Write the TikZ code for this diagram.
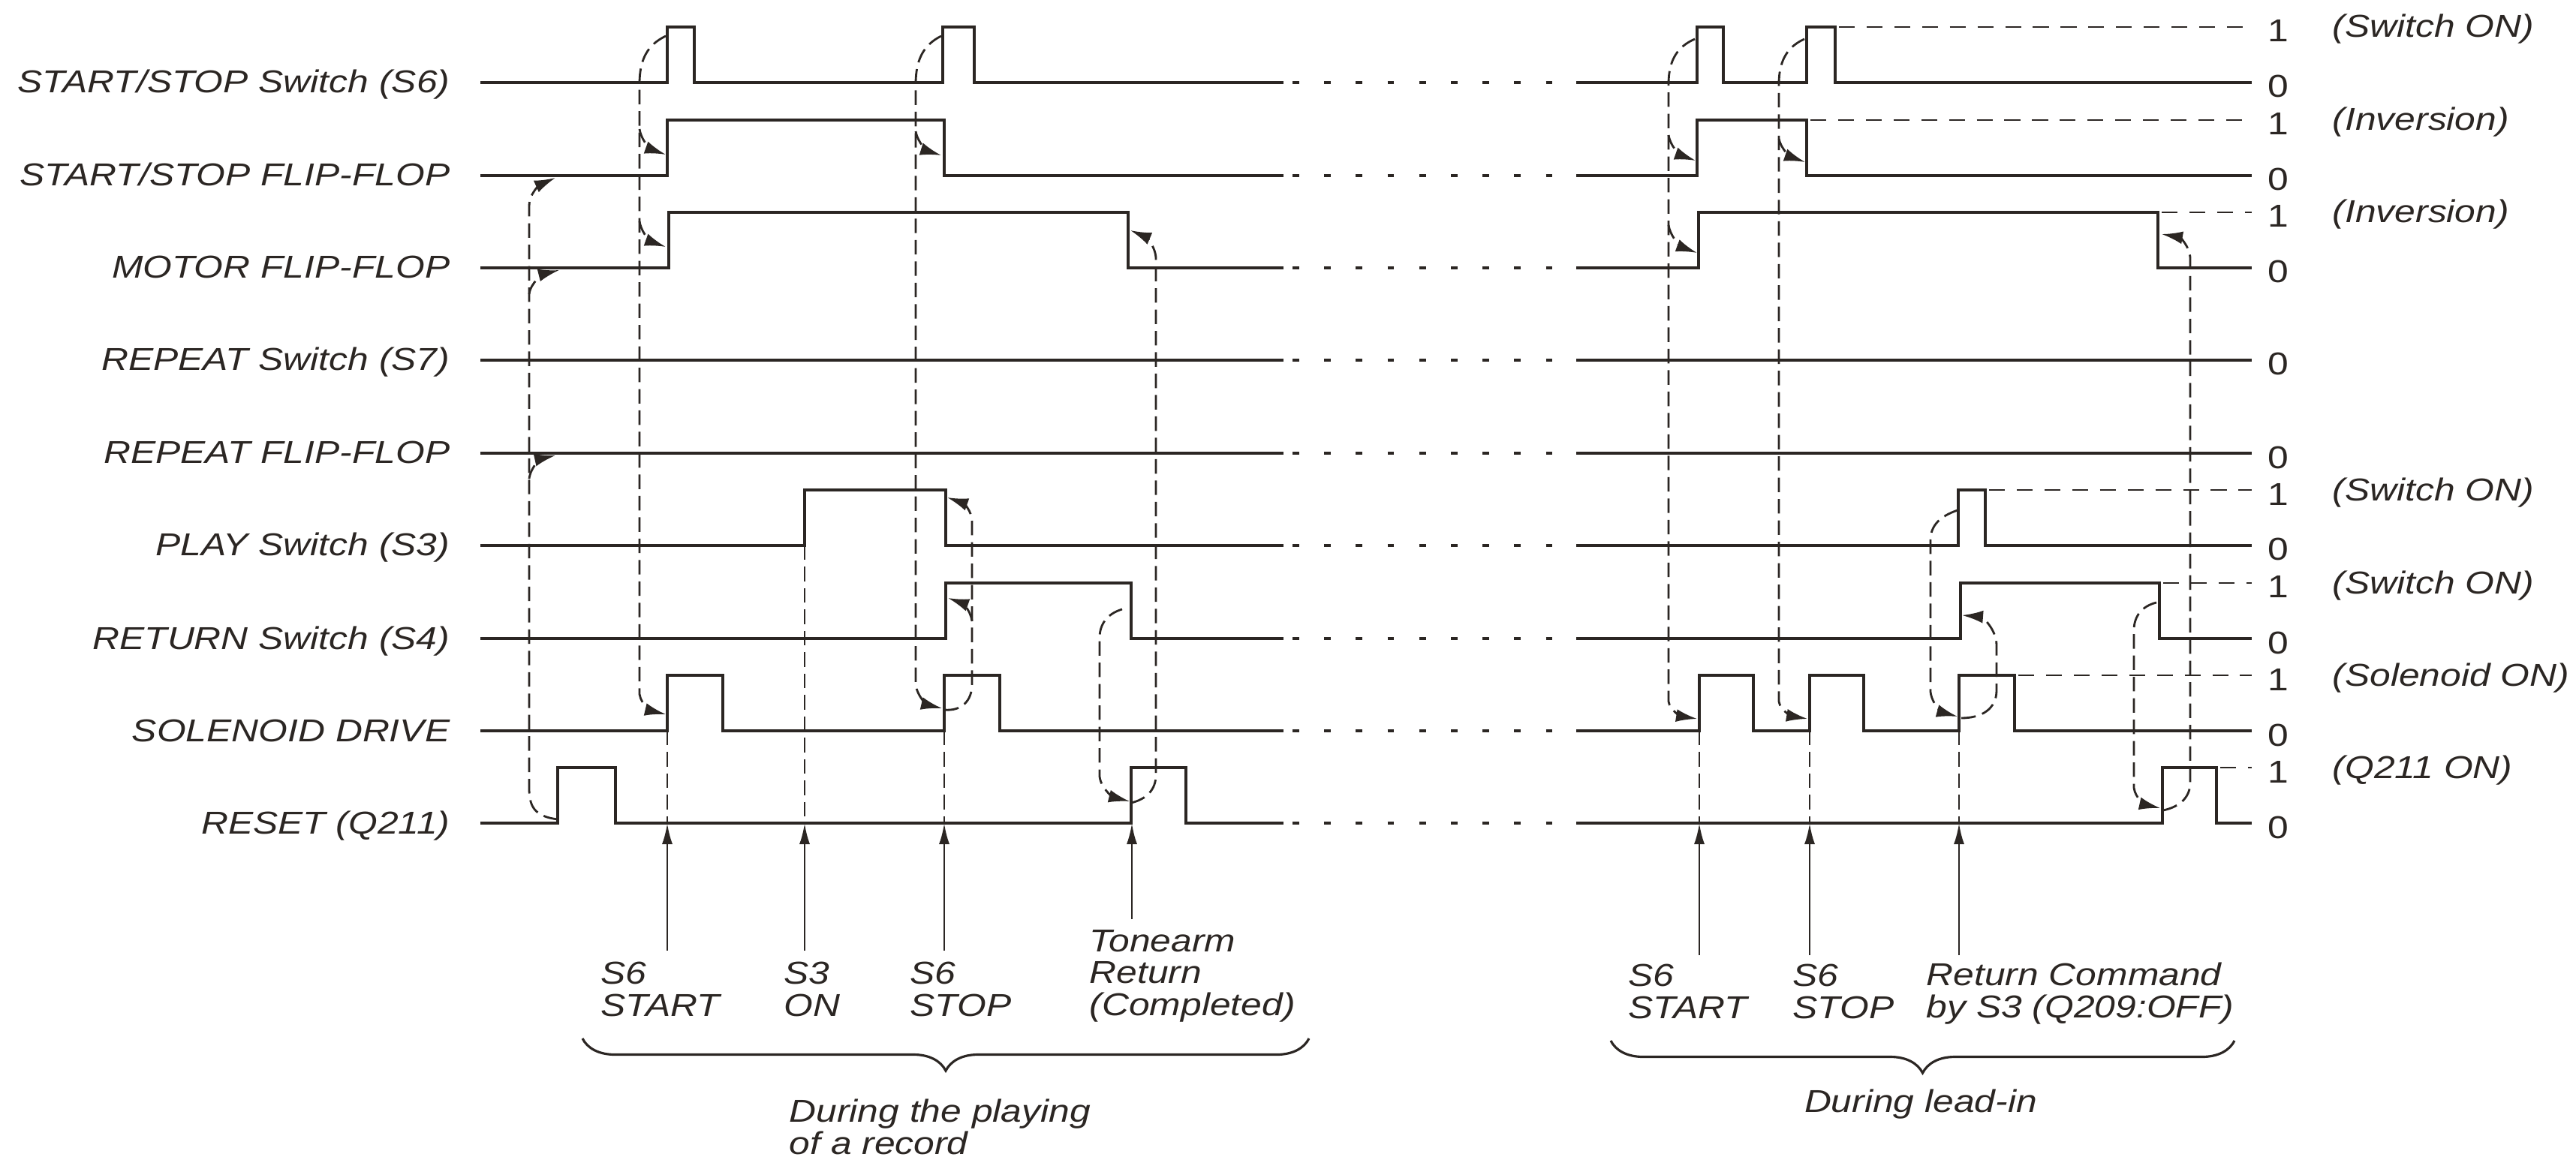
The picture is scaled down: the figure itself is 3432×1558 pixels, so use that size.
\documentclass[tikz,border=0pt]{standalone}
\usepackage{fontspec}
\setmainfont{Liberation Sans}[FakeStretch=1.18]
\usetikzlibrary{arrows.meta, decorations.pathreplacing}
\definecolor{ink}{HTML}{2B2623}

\begin{document}
\begin{tikzpicture}[
  x=0.01cm, y=-0.01cm,
  every node/.style={inner sep=0pt, text=ink, font=\fontsize{12}{12}\selectfont\itshape},
  wave/.style={line width=1.3pt, ink},
  gap/.style={line width=1.2pt, ink, dash pattern=on 2.5pt off 9.5pt},
  hi/.style={line width=0.8pt, ink, dash pattern=on 6pt off 4.5pt},
  dline/.style={line width=0.8pt, ink, dash pattern=on 5.5pt off 2.6pt},
  link/.style={dline, -{Latex[length=2.8mm, width=1.7mm]}},
  evt/.style={line width=0.8pt, ink, -{Latex[length=2.8mm, width=1.4mm]}},
  lvl/.style={anchor=base, font=\fontsize{12}{12}\selectfont\upshape},
  brc/.style={line width=0.9pt, ink, decorate, decoration={brace, mirror, amplitude=0.43cm}}
]
\useasboundingbox (0,0) rectangle (3432,1558);

% signal names
\foreach \y/\nm/\txt in {110/lsw/{START/STOP Switch (S6)}, 234/lssf/{START/STOP FLIP-FLOP},
    357/lmot/{MOTOR FLIP-FLOP}, 480/lrsw/{REPEAT Switch (S7)}, 604/lrff/{REPEAT FLIP-FLOP},
    727/lplay/{PLAY Switch (S3)}, 851/lret/{RETURN Switch (S4)}, 974/lsol/{SOLENOID DRIVE},
    1097/lrst/{RESET (Q211)}}
  \node[anchor=base east] (\nm) at (600,\y+14) {\txt};

% levels and notes on the right
\foreach \y in {110,234,357,480,604,727,851,974,1097}
  \node[lvl] (z\y) at (3035,\y+20) {0};
\foreach \y/\txt in {36/{(Switch ON)}, 160/{(Inversion)}, 283/{(Inversion)}, 653/{(Switch ON)},
    777/{(Switch ON)}, 900/{(Solenoid ON)}, 1023/{(Q211 ON)}} {
  \node[lvl] (o\y) at (3035,\y+20) {1};
  \node[anchor=base west] (r\y) at (3107,\y+14) {\txt};
}

% waveforms: playing of a record
\draw[wave] (640,110) -- (889,110) -- (889,36) -- (925,36) -- (925,110) -- (1256,110) -- (1256,36) -- (1298,36) -- (1298,110) -- (1710,110);
\draw[wave] (640,234) -- (889,234) -- (889,160) -- (1258,160) -- (1258,234) -- (1710,234);
\draw[wave] (640,357) -- (891,357) -- (891,283) -- (1503,283) -- (1503,357) -- (1710,357);
\draw[wave] (640,480) -- (1710,480);
\draw[wave] (640,604) -- (1710,604);
\draw[wave] (640,727) -- (1072,727) -- (1072,653) -- (1260,653) -- (1260,727) -- (1710,727);
\draw[wave] (640,851) -- (1260,851) -- (1260,777) -- (1507,777) -- (1507,851) -- (1710,851);
\draw[wave] (640,974) -- (889,974) -- (889,900) -- (963,900) -- (963,974) -- (1258,974) -- (1258,900) -- (1332,900) -- (1332,974) -- (1710,974);
\draw[wave] (640,1097) -- (743,1097) -- (743,1023) -- (820,1023) -- (820,1097) -- (1507,1097) -- (1507,1023) -- (1580,1023) -- (1580,1097) -- (1710,1097);

% dotted gap
\foreach \y in {110,234,357,480,604,727,851,974,1097}
  \draw[gap] (1722,\y) -- (2095,\y);

% waveforms: lead-in
\draw[wave] (2100,110) -- (2261,110) -- (2261,36) -- (2296,36) -- (2296,110) -- (2407,110) -- (2407,36) -- (2445,36) -- (2445,110) -- (3000,110);
\draw[wave] (2100,234) -- (2261,234) -- (2261,160) -- (2407,160) -- (2407,234) -- (3000,234);
\draw[wave] (2100,357) -- (2263,357) -- (2263,283) -- (2875,283) -- (2875,357) -- (3000,357);
\draw[wave] (2100,480) -- (3000,480);
\draw[wave] (2100,604) -- (3000,604);
\draw[wave] (2100,727) -- (2609,727) -- (2609,653) -- (2645,653) -- (2645,727) -- (3000,727);
\draw[wave] (2100,851) -- (2612,851) -- (2612,777) -- (2877,777) -- (2877,851) -- (3000,851);
\draw[wave] (2100,974) -- (2264,974) -- (2264,900) -- (2336,900) -- (2336,974) -- (2411,974) -- (2411,900) -- (2483,900) -- (2483,974) -- (2610,974) -- (2610,900) -- (2684,900) -- (2684,974) -- (3000,974);
\draw[wave] (2100,1097) -- (2881,1097) -- (2881,1023) -- (2953,1023) -- (2953,1097) -- (3000,1097);

% high levels carried to the "1" marks
\draw[hi] (2450,36) -- (3000,36);
\draw[hi] (2412,160) -- (3000,160);
\draw[hi] (2880,283) -- (3000,283);
\draw[hi] (2650,653) -- (3000,653);
\draw[hi] (2882,777) -- (3000,777);
\draw[hi] (2689,900) -- (3000,900);
\draw[hi] (2958,1023) -- (3000,1023);

% cause and effect, playing of a record
\draw[link] (743,1092) .. controls (712,1088) and (705,1075) .. (705,1050) -- (705,275) .. controls (705,256) and (722,245) .. (740,237);
\draw[link] (705,392) .. controls (707,376) and (725,365) .. (745,360);
\draw[link] (705,638) .. controls (707,622) and (722,611) .. (740,607);
\draw[link] (887,48) .. controls (862,60) and (852,80) .. (852,112) -- (852,925) .. controls (854,940) and (870,948) .. (887,952);
\draw[link] (852,172) .. controls (855,190) and (870,200) .. (887,206);
\draw[link] (852,295) .. controls (855,313) and (870,323) .. (887,329);
\draw[link] (1254,48) .. controls (1230,60) and (1220,80) .. (1220,112) -- (1220,912) .. controls (1222,930) and (1238,940) .. (1255,944);
\draw[link] (1220,175) .. controls (1223,192) and (1238,202) .. (1254,207);
\draw[link] (1258,946) .. controls (1280,948) and (1295,935) .. (1295,912) -- (1295,695) .. controls (1295,680) and (1282,670) .. (1262,663);
\draw[link] (1295,828) .. controls (1293,812) and (1280,803) .. (1263,797);
\draw[link] (1495,812) .. controls (1475,818) and (1465,832) .. (1465,850) -- (1465,1035) .. controls (1467,1052) and (1485,1063) .. (1505,1068);
\draw[link] (1507,1070) .. controls (1528,1065) and (1540,1052) .. (1540,1033) -- (1540,345) .. controls (1540,328) and (1525,315) .. (1506,307);
\draw[dline] (889,974) -- (889,1097);
\draw[dline] (1072,727) -- (1072,1097);
\draw[dline] (1258,974) -- (1258,1097);

% cause and effect, lead-in
\draw[link] (2258,52) .. controls (2235,62) and (2223,80) .. (2223,112) -- (2223,935) .. controls (2225,948) and (2242,955) .. (2261,958);
\draw[link] (2223,180) .. controls (2226,198) and (2242,208) .. (2259,214);
\draw[link] (2223,300) .. controls (2226,318) and (2242,330) .. (2261,337);
\draw[link] (2404,52) .. controls (2382,62) and (2370,80) .. (2370,112) -- (2370,935) .. controls (2372,948) and (2390,955) .. (2408,958);
\draw[link] (2370,185) .. controls (2373,200) and (2388,210) .. (2405,216);
\draw[link] (2608,680) .. controls (2585,688) and (2572,700) .. (2572,720) -- (2572,922) .. controls (2574,940) and (2590,950) .. (2608,955);
\draw[link] (2613,957) .. controls (2640,957) and (2660,945) .. (2660,920) -- (2660,860) .. controls (2660,838) and (2640,822) .. (2614,820);
\draw[link] (2873,803) .. controls (2853,808) and (2843,822) .. (2843,840) -- (2843,1050) .. controls (2845,1065) and (2860,1073) .. (2878,1077);
\draw[link] (2882,1080) .. controls (2905,1075) and (2918,1062) .. (2918,1043) -- (2918,345) .. controls (2918,328) and (2903,316) .. (2880,312);
\draw[dline] (2264,974) -- (2264,1097);
\draw[dline] (2411,974) -- (2411,1097);
\draw[dline] (2610,974) -- (2610,1097);

% events (anchored on the last line)
\node[anchor=base west, align=left] (sstart) at (800,1354) {S6\\START};
\node[anchor=base west, align=left] (son) at (1044,1354) {S3\\ON};
\node[anchor=base west, align=left] (sstop) at (1212,1354) {S6\\STOP};
\node[anchor=base west, align=left] (tret) at (1451,1353) {Tonearm\\Return\\(Completed)};
\node[anchor=base west, align=left] (rstart) at (2169,1357) {S6\\START};
\node[anchor=base west, align=left] (rstop) at (2388,1357) {S6\\STOP};
\node[anchor=base west, align=left] (rcmd) at (2566,1356) {Return Command\\by S3 (Q209:OFF)};
\foreach \x/\y in {889/1267, 1072/1267, 1258/1267, 1508/1225, 2264/1273, 2411/1273, 2610/1273} {
  \coordinate (e\x) at (\x,\y);
  \coordinate (t\x) at (\x,1097);
  \draw[evt] (e\x) -- (t\x);
}

% phases
\draw[brc] (776,1384) -- (1744,1384);
\draw[brc] (2146,1387) -- (2977,1387);
\node[anchor=base west, align=left] (dplay) at (1051,1538) {During the playing\\of a record};
\node[anchor=base] (dlead) at (2559,1482) {During lead-in};
\end{tikzpicture}
\end{document}
